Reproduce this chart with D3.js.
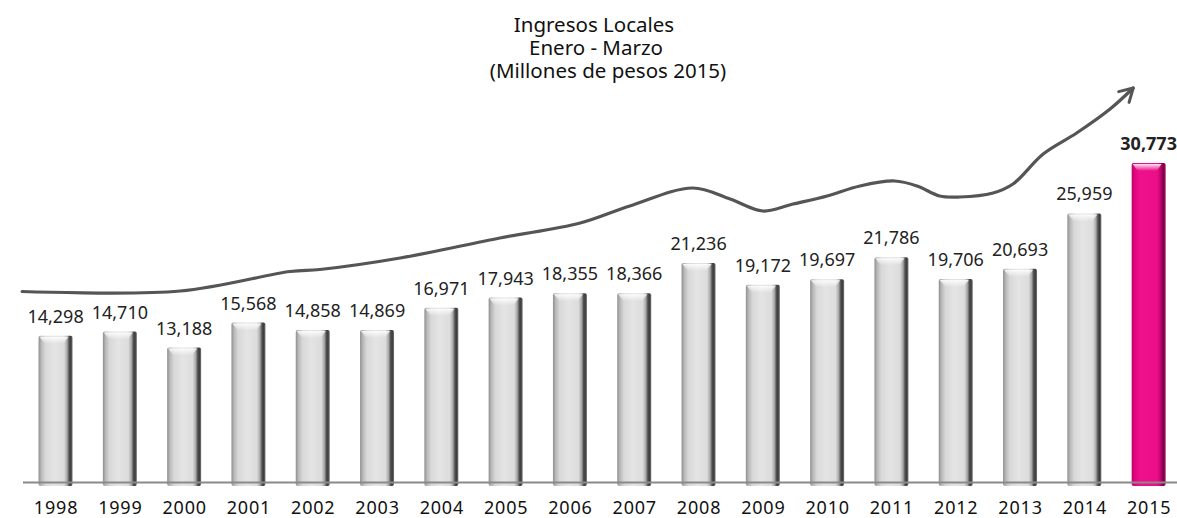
<!DOCTYPE html>
<html><head><meta charset="utf-8">
<script src="https://cdn.jsdelivr.net/npm/d3@7"></script>
<style>body{margin:0;background:#fff}svg{display:block}text{font-family:"Noto Sans",sans-serif}</style>
</head><body>
<svg id="chart" width="1177" height="518"></svg>
<script>
const years = ["1998","1999","2000","2001","2002","2003","2004","2005","2006","2007","2008","2009","2010","2011","2012","2013","2014","2015"];
const values = [14298,14710,13188,15568,14858,14869,16971,17943,18355,18366,21236,19172,19697,21786,19706,20693,25959,30773];
const titleLines = ["Ingresos Locales","Enero - Marzo","(Millones de pesos 2015)"];
// decorative trend curve: [year position, value level]
const trendYears = [1997.48,1999.94,2001.65,2002.11,2003.36,2004.91,2006.16,2006.93,2007.91,2008.49,2009.0,2009.47,2010.0,2010.51,2011.05,2011.4,2011.75,2012.06,2012.58,2012.89,2013.36,2013.88,2014.4,2014.76];
const trendValues = [18524,18571,20429,20619,21714,23619,25048,26667,28381,27333,26190,26857,27619,28571,29048,28571,27619,27524,27905,28762,31619,33619,35905,37905];

const svg = d3.select("#chart");
const x = d3.scalePoint().domain(years).range([23.4, 1180.8]).padding(0.5);
const y = d3.scaleLinear().domain([0, 40000]).range([486, 66]);
const xYear = d3.scaleLinear().domain([1998, 2015]).range([x("1998"), x("2015")]);
const bw = 34;

const defs = svg.append("defs");
function hgrad(id, stops){
  const g = defs.append("linearGradient").attr("id", id).attr("x1","0").attr("x2","1").attr("y1","0").attr("y2","0");
  stops.forEach(s => g.append("stop").attr("offset", s[0]).attr("stop-color", s[1]));
}
hgrad("gGray", [[0,"#8e8e8e"],[0.08,"#b8b8b8"],[0.2,"#d8d8d8"],[0.45,"#e4e4e4"],[0.75,"#dcdcdc"],[0.84,"#a8a8a8"],[0.9,"#505050"],[0.95,"#3c3c3c"],[1,"#7a7a7a"]]);
hgrad("gPink", [[0,"#c4006e"],[0.1,"#e0067f"],[0.25,"#ef108c"],[0.75,"#ec0d89"],[0.85,"#c0076f"],[0.93,"#7e0048"],[1,"#a0105f"]]);
const cap = defs.append("linearGradient").attr("id","gCap").attr("x1","0").attr("x2","0").attr("y1","0").attr("y2","1");
cap.append("stop").attr("offset",0).attr("stop-color","#fff").attr("stop-opacity",0.9);
cap.append("stop").attr("offset",1).attr("stop-color","#fff").attr("stop-opacity",0);

// title
svg.append("g").selectAll("text").data(titleLines).join("text")
  .attr("x", (d,i) => [594,596,608][i]).attr("y", (d,i) => 32 + i*23)
  .attr("text-anchor","middle").attr("font-size", 20.5).attr("fill","#111").text(d => d);

// bars
const bars = svg.append("g");
years.forEach((yr, i) => {
  const cx = x(yr), top = y(values[i]);
  const last = i === years.length - 1;
  bars.append("rect").attr("x", cx - bw/2).attr("y", top).attr("width", bw).attr("height", y(0) - top)
    .attr("rx", 2).attr("fill", last ? "url(#gPink)" : "url(#gGray)");
  bars.append("path")
    .attr("d", `M${cx-bw/2+1},${top+1}L${cx+bw/2-4},${top+1}L${cx+bw/2-9},${top+8}L${cx-bw/2+6},${top+8}Z`)
    .attr("fill", "url(#gCap)");
});

// axis line
svg.append("line").attr("x1", 23).attr("x2", 1177).attr("y1", 482.5).attr("y2", 482.5)
  .attr("stroke", "#8a8a8a").attr("stroke-width", 2);

// year labels
const xAxis = d3.axisBottom(x).tickSize(0).tickPadding(0);
const ax = svg.append("g").attr("transform", "translate(0,501)").call(xAxis);
ax.select(".domain").remove();
ax.selectAll("text").attr("font-size", 18).attr("fill", "#111").attr("dy", "0.72em")
  .attr("letter-spacing", 0.8)
  .style("font-family", "\"Noto Sans\",sans-serif");

// value labels
svg.append("g").selectAll("text").data(values).join("text")
  .attr("x", (d,i) => x(years[i])).attr("y", d => y(d) - 13)
  .attr("text-anchor","middle").attr("font-size", 18)
  .attr("font-weight", (d,i) => i === values.length-1 ? "bold" : "normal")
  .attr("fill", "#222").text(d => d3.format(",")(d));

// trend arrow
defs.append("marker").attr("id","arrow").attr("viewBox","-16 -10 20 20")
  .attr("refX",0).attr("refY",0).attr("markerWidth",20).attr("markerHeight",20)
  .attr("markerUnits","userSpaceOnUse").attr("orient","auto")
  .append("path").attr("d","M-13,-7.5L0,0L-13,7.5").attr("fill","none")
  .attr("stroke","#555").attr("stroke-width",3).attr("stroke-linecap","round").attr("stroke-linejoin","round");
const line = d3.line().x(d => xYear(d[0])).y(d => y(d[1])).curve(d3.curveCatmullRom.alpha(0.5));
svg.append("path").datum(trendYears.map((t,i) => [t, trendValues[i]]))
  .attr("d", line).attr("fill","none").attr("stroke","#555").attr("stroke-width",3.2)
  .attr("stroke-linecap","round").attr("marker-end","url(#arrow)");
</script>
</body></html>
